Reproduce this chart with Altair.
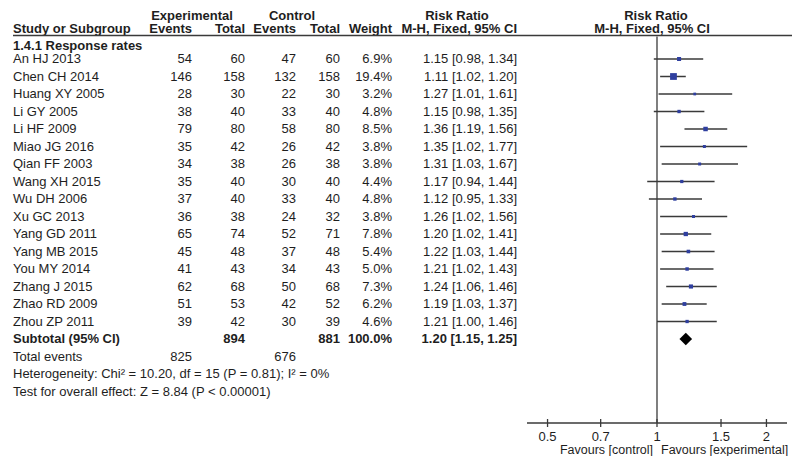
import altair as alt
import pandas as pd

# ---------------- data ----------------
studies = ["An HJ 2013", "Chen CH 2014", "Huang XY 2005", "Li GY 2005", "Li HF 2009",
           "Miao JG 2016", "Qian FF 2003", "Wang XH 2015", "Wu DH 2006", "Xu GC 2013",
           "Yang GD 2011", "Yang MB 2015", "You MY 2014", "Zhang J 2015", "Zhao RD 2009",
           "Zhou ZP 2011"]
exp_events = [54, 146, 28, 38, 79, 35, 34, 35, 37, 36, 65, 45, 41, 62, 51, 39]
exp_total = [60, 158, 30, 40, 80, 42, 38, 40, 40, 38, 74, 48, 43, 68, 53, 42]
ctrl_events = [47, 132, 22, 33, 58, 26, 26, 30, 33, 24, 52, 37, 34, 50, 42, 30]
ctrl_total = [60, 158, 30, 40, 80, 42, 38, 40, 40, 32, 71, 48, 43, 68, 52, 39]
weights = [6.9, 19.4, 3.2, 4.8, 8.5, 3.8, 3.8, 4.4, 4.8, 3.8, 7.8, 5.4, 5.0, 7.3, 6.2, 4.6]
rr = [1.15, 1.11, 1.27, 1.15, 1.36, 1.35, 1.31, 1.17, 1.12, 1.26, 1.20, 1.22, 1.21, 1.24, 1.19, 1.21]
ci_lo = [0.98, 1.02, 1.01, 0.98, 1.19, 1.02, 1.03, 0.94, 0.95, 1.02, 1.02, 1.03, 1.02, 1.06, 1.03, 1.00]
ci_hi = [1.34, 1.20, 1.61, 1.35, 1.56, 1.77, 1.67, 1.44, 1.33, 1.56, 1.41, 1.44, 1.43, 1.46, 1.37, 1.46]

sub_label = "Subtotal (95% CI)"
sub_exp_total = 894
sub_ctrl_total = 881
sub_weight = 100.0
sub_rr, sub_lo, sub_hi = 1.20, 1.15, 1.25
total_events = [825, 676]
het_text = "Heterogeneity: Chi\u00b2 = 10.20, df = 15 (P = 0.81); I\u00b2 = 0%"
test_text = "Test for overall effect: Z = 8.84 (P < 0.00001)"
axis_ticks = [0.5, 0.7, 1, 1.5, 2]
axis_labels = ["0.5", "0.7", "1", "1.5", "2"]
axis_domain = [0.439, 2.278]

# ---------------- tables ----------------
n = len(studies)
df = pd.DataFrame({
    "row": list(range(n)),
    "name": studies,
    "ee": exp_events, "et": exp_total, "ce": ctrl_events, "ct": ctrl_total,
    "weight": weights, "rr": rr, "lo": ci_lo, "hi": ci_hi,
})
df["w_txt"] = df["weight"].map(lambda v: f"{v:.1f}%")
df["ci_txt"] = [f"{a:.2f} [{b:.2f}, {c:.2f}]" for a, b, c in zip(rr, ci_lo, ci_hi)]

sub = pd.DataFrame({
    "row": [n], "name": [sub_label], "et": [sub_exp_total], "ct": [sub_ctrl_total],
    "w_txt": [f"{sub_weight:.1f}%"], "rr": [sub_rr], "lo": [sub_lo], "hi": [sub_hi],
    "ci_txt": [f"{sub_rr:.2f} [{sub_lo:.2f}, {sub_hi:.2f}]"],
})
tot = pd.DataFrame({"row": [n + 1], "name": ["Total events"],
                    "ee": [total_events[0]], "ce": [total_events[1]]})
notes = pd.DataFrame({"row": [n + 2, n + 3], "name": [het_text, test_text]})
tick_df = pd.DataFrame({"tick": axis_ticks, "lab": axis_labels})
dom_df = pd.DataFrame({"a": [axis_domain[0]], "b": [axis_domain[1]]})

# ---------------- style ----------------
FONT = "Liberation Sans"
FS = 13
INK = "#1e1e1e"
LINE = "#3a3a3a"
BLUE = "#2f3f9f"
AXIS_Y = 415

yscale = alt.Scale(domain=[0, n - 1], range=[51, 313.5], zero=False, nice=False)
xscale = alt.Scale(type="log", domain=axis_domain, range=[519, 779], nice=False, zero=False)
Y = alt.Y("row:Q", scale=yscale, axis=None)


def XF(field):
    return alt.X(field, scale=xscale, axis=None)


def col(data, field, x, align="right", bold=False):
    return alt.Chart(data).mark_text(
        align=align, baseline="middle", font=FONT, fontSize=FS,
        fontWeight="bold" if bold else "normal", color=INK
    ).encode(x=alt.value(x), y=Y, text=alt.Text(field))


def label(text, x, y, align="left"):
    return alt.Chart(pd.DataFrame({"t": [text]})).mark_text(
        align=align, baseline="middle", font=FONT, fontSize=FS,
        fontWeight="bold", color=INK
    ).encode(x=alt.value(x), y=alt.value(y), text="t:N")


X_NAME, X_EE, X_ET, X_CE, X_CT, X_W, X_CI = 5, 184, 237, 288, 332, 384, 509

layers = []
# headers
H1, H2, HLINE = 7.5, 21, 27.5
layers += [
    label("Experimental", 184, H1, "center"),
    label("Control", 284, H1, "center"),
    label("Risk Ratio", 449, H1, "center"),
    label("Risk Ratio", 648, H1, "center"),
    label("Study or Subgroup", X_NAME, H2),
    label("Events", X_EE, H2, "right"),
    label("Total", X_ET, H2, "right"),
    label("Events", X_CE, H2, "right"),
    label("Total", X_CT, H2, "right"),
    label("Weight", X_W, H2, "right"),
    label("M-H, Fixed, 95% CI", X_CI, H2, "right"),
    label("M-H, Fixed, 95% CI", 644, H2, "center"),
    label("1.4.1 Response rates", X_NAME, 37.5),
]
# header underline
layers.append(
    alt.Chart(pd.DataFrame({"a": [0]})).mark_rule(color=LINE, strokeWidth=1.5)
    .encode(x=alt.value(5), x2=alt.value(784), y=alt.value(HLINE))
)
# study rows
layers += [
    col(df, "name:N", X_NAME, "left"),
    col(df, "ee:Q", X_EE),
    col(df, "et:Q", X_ET),
    col(df, "ce:Q", X_CE),
    col(df, "ct:Q", X_CT),
    col(df, "w_txt:N", X_W),
    col(df, "ci_txt:N", X_CI),
]
# subtotal row
layers += [
    col(sub, "name:N", X_NAME, "left", True),
    col(sub, "et:Q", X_ET, bold=True),
    col(sub, "ct:Q", X_CT, bold=True),
    col(sub, "w_txt:N", X_W, bold=True),
    col(sub, "ci_txt:N", X_CI, bold=True),
]
# total events and notes
layers += [
    col(tot, "name:N", X_NAME, "left"),
    col(tot, "ee:Q", X_EE),
    col(tot, "ce:Q", X_CE),
    col(notes, "name:N", X_NAME, "left"),
]

# forest: line of no effect
layers.append(
    alt.Chart(pd.DataFrame({"v": [1.0]})).mark_rule(color=LINE, strokeWidth=1.3)
    .encode(x=XF("v:Q"), y=alt.value(HLINE + 1), y2=alt.value(AXIS_Y))
)
# axis domain line
layers.append(
    alt.Chart(dom_df).mark_rule(color=LINE, strokeWidth=1.3)
    .encode(x=XF("a:Q"), x2="b:Q", y=alt.value(AXIS_Y))
)
# tick marks crossing the axis line
layers.append(
    alt.Chart(tick_df).mark_rule(color=LINE, strokeWidth=1.3).encode(
        x=XF("tick:Q"), y=alt.value(AXIS_Y - 4), y2=alt.value(AXIS_Y + 4))
)
# tick labels
layers.append(
    alt.Chart(tick_df).mark_text(align="center", baseline="middle", font=FONT, fontSize=FS, color=INK)
    .encode(x=XF("tick:Q"), y=alt.value(AXIS_Y + 14), text="lab:N")
)
# CI lines
layers.append(
    alt.Chart(df).mark_rule(color=LINE, strokeWidth=1.5).encode(
        x=XF("lo:Q"), x2="hi:Q", y=Y)
)
# weight squares
layers.append(
    alt.Chart(df).mark_square(filled=True, color=BLUE, opacity=1).encode(
        x=XF("rr:Q"),
        y=Y,
        size=alt.Size("weight:Q", scale=alt.Scale(domain=[0, 19.4], range=[0, 46]), legend=None),
    )
)
# subtotal diamond
layers.append(
    alt.Chart(sub).mark_point(shape="diamond", filled=True, color="#000000", opacity=1, size=160).encode(
        x=XF("rr:Q"), y=Y)
)
# favours labels
fav = pd.DataFrame({"t": ["Favours [control]"], "v": [1.0]})
fav2 = pd.DataFrame({"t": ["Favours [experimental]"], "v": [1.0]})
layers.append(
    alt.Chart(fav).mark_text(align="right", baseline="middle", font=FONT, fontSize=12.5, color=INK, dx=-4)
    .encode(x=XF("v:Q"), y=alt.value(AXIS_Y + 27), text="t:N")
)
layers.append(
    alt.Chart(fav2).mark_text(align="left", baseline="middle", font=FONT, fontSize=12.5, color=INK, dx=4)
    .encode(x=XF("v:Q"), y=alt.value(AXIS_Y + 27), text="t:N")
)

chart = alt.layer(*layers).properties(
    width=784, height=AXIS_Y,
    autosize=alt.AutoSizeParams(type="none"),
    padding={"left": 0, "top": 0, "right": 0, "bottom": 448 - AXIS_Y},
    background="white",
).configure_view(stroke=None)

chart.save("out.html", embed_options={"renderer": "svg", "actions": False})
